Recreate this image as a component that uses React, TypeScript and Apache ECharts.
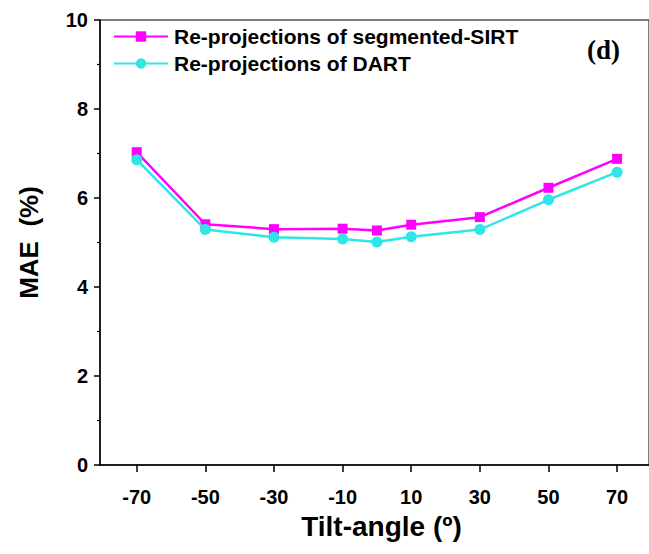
import React, { useEffect, useRef } from "react";
import * as echarts from "echarts";

const tiltAngles = [-70, -50, -30, -10, 0, 10, 30, 50, 70];
const sirtValues = [7.03, 5.41, 5.3, 5.31, 5.27, 5.4, 5.57, 6.23, 6.88];
const dartValues = [6.86, 5.29, 5.12, 5.08, 5.01, 5.13, 5.29, 5.96, 6.58];
const xTickValues = [-70, -50, -30, -10, 10, 30, 50, 70];
const seriesNames = ["Re-projections of segmented-SIRT", "Re-projections of DART"];

export default function App() {
  const ref = useRef<HTMLDivElement>(null);
  useEffect(() => {
    if (!ref.current) return;
    const chart = echarts.init(ref.current, null, { renderer: "svg" });
    const font = "'Liberation Sans', Arial, sans-serif";
    chart.setOption({
      animation: false,
      backgroundColor: "#ffffff",
      grid: {
        left: 100,
        top: 20,
        width: 552,
        height: 445,
        show: true,
        borderColor: "#555555",
        borderWidth: 1.5,
        backgroundColor: "transparent",
      },
      legend: {
        orient: "vertical",
        left: 108,
        top: 21,
        itemWidth: 54,
        itemHeight: 13,
        itemGap: 6,
        textStyle: {
          fontFamily: font,
          fontWeight: "bold",
          fontSize: 21,
          lineHeight: 20,
          color: "#000000",
          padding: [0, 0, 0, 1],
        },
        data: seriesNames,
      },
      xAxis: {
        type: "value",
        min: -80.7,
        max: 79.3,
        name: "Tilt-angle (º)",
        nameLocation: "middle",
        nameGap: 47,
        nameTextStyle: {
          fontFamily: font,
          fontWeight: "bold",
          fontSize: 28,
          color: "#000",
          padding: [0, 0, 0, 14],
        },
        axisLine: { show: true, onZero: false, lineStyle: { color: "#000", width: 1.5 } },
        axisTick: { show: true, length: 7, customValues: xTickValues, lineStyle: { color: "#000", width: 1.5 } },
        axisLabel: {
          customValues: xTickValues,
          margin: 22,
          fontFamily: font,
          fontWeight: "bold",
          fontSize: 20,
          color: "#000",
        },
        splitLine: { show: false },
      },
      yAxis: {
        type: "value",
        min: 0,
        max: 10,
        interval: 2,
        name: "MAE  (%)",
        nameLocation: "middle",
        nameGap: 58,
        nameTextStyle: { fontFamily: font, fontWeight: "bold", fontSize: 26, color: "#000" },
        axisLine: { show: true, onZero: false, lineStyle: { color: "#000", width: 1.5 } },
        axisTick: { show: true, length: 6, lineStyle: { color: "#000", width: 1.5 } },
        minorTick: { show: true, splitNumber: 2, length: 3, lineStyle: { color: "#000", width: 1.2 } },
        axisLabel: { margin: 12, fontFamily: font, fontWeight: "bold", fontSize: 20, color: "#000" },
        splitLine: { show: false },
      },
      series: [
        {
          name: seriesNames[0],
          type: "line",
          data: tiltAngles.map((a, i) => [a, sirtValues[i]]),
          symbol: "rect",
          symbolSize: 10,
          lineStyle: { color: "#ff00ff", width: 2.5 },
          itemStyle: { color: "#ff00ff" },
          z: 2,
        },
        {
          name: seriesNames[1],
          type: "line",
          data: tiltAngles.map((a, i) => [a, dartValues[i]]),
          symbol: "circle",
          symbolSize: 11,
          lineStyle: { color: "#2ee6e6", width: 2.5 },
          itemStyle: { color: "#2ee6e6" },
          z: 3,
        },
      ],
      graphic: [
        {
          type: "text",
          left: 587,
          top: 36,
          style: {
            text: "(d)",
            fontFamily: "'Liberation Serif', 'Times New Roman', serif",
            fontWeight: "bold",
            fontSize: 27,
            fill: "#000",
          },
        },
      ],
    });
    return () => chart.dispose();
  }, []);
  return (
    <div
      ref={ref}
      style={{ position: "fixed", left: 0, top: 0, width: 649, height: 554, background: "#fff" }}
    />
  );
}
